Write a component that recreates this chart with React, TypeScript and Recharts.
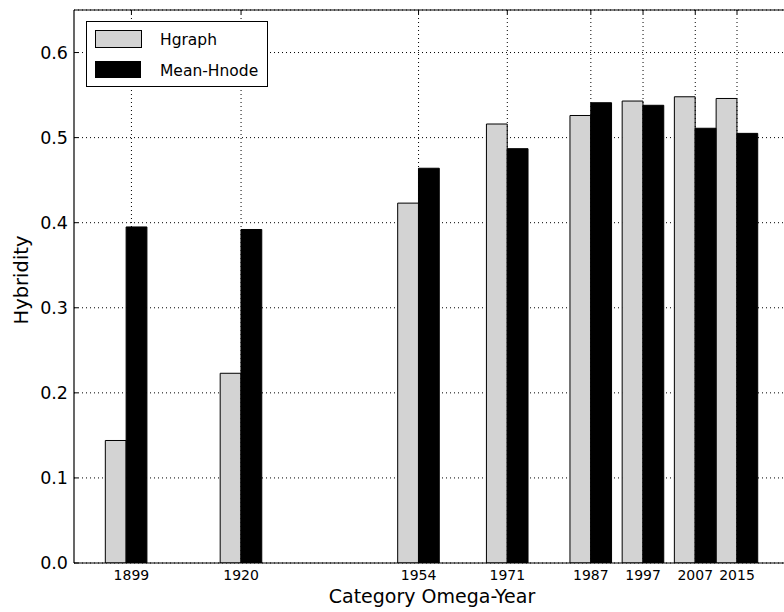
import { BarChart, Bar, XAxis, YAxis, CartesianGrid, ReferenceLine } from "recharts";

// tick labels on the year axis, and where each pair of bars sits
const tickYears = [1899, 1920, 1954, 1971, 1987, 1997, 2007, 2015];
const barYears = [1898, 1920, 1954, 1971, 1987, 1997, 2007, 2015];

const hgraph = [0.144, 0.223, 0.423, 0.516, 0.526, 0.543, 0.548, 0.546];
const meanHnode = [0.395, 0.392, 0.464, 0.487, 0.541, 0.538, 0.511, 0.505];

const yTicks = [0, 0.1, 0.2, 0.3, 0.4, 0.5, 0.6];

const data = barYears.map((year, i) => ({
  year,
  hgraph: hgraph[i],
  meanHnode: meanHnode[i],
}));

const FONT = "'DejaVu Sans', sans-serif";
const PLOT_TOP = 10;
const PLOT_LEFT = 74;

const YTick = (props: any) => {
  const { x, y, payload } = props;
  return (
    <g>
      <line x1={PLOT_LEFT} x2={PLOT_LEFT + 4} y1={y} y2={y} stroke="#000" />
      <text x={x} y={y} dy="0.355em" textAnchor="end" fontSize={17.5} fontFamily={FONT} fill="#000">
        {payload.value.toFixed(1)}
      </text>
    </g>
  );
};

const XTick = (props: any) => {
  const { x, y, payload } = props;
  return (
    <g>
      <line x1={x} x2={x} y1={PLOT_TOP} y2={PLOT_TOP + 4} stroke="#000" />
      <text x={x} y={y} dy="0.71em" textAnchor="middle" fontSize={14} fontFamily={FONT} fill="#000">
        {payload.value}
      </text>
    </g>
  );
};

export default function App() {
  return (
    <div style={{ position: "absolute", left: 0, top: 0, width: 784, height: 612, background: "#fff" }}>
      <BarChart
        width={784}
        height={612}
        data={data}
        barSize={20.8}
        barGap={0}
        margin={{ top: PLOT_TOP, right: 0, bottom: 0, left: 0 }}
      >
        <XAxis
          dataKey="year"
          type="number"
          domain={[1888, 2024]}
          ticks={tickYears}
          allowDataOverflow
          height={49}
          tickLine={false}
          tickSize={0}
          tickMargin={7}
          axisLine={{ stroke: "#000", strokeWidth: 1.2 }}
          tick={<XTick />}
          label={() => (
            <text x={432} y={603} textAnchor="middle" fontSize={19} fontFamily={FONT} fill="#000">
              Category Omega-Year
            </text>
          )}
        />
        <YAxis
          type="number"
          domain={[0, 0.65]}
          ticks={yTicks}
          allowDataOverflow
          width={74}
          tickLine={false}
          tickSize={0}
          tickMargin={6}
          axisLine={{ stroke: "#000", strokeWidth: 1.2 }}
          tick={<YTick />}
          label={() => (
            <text x={28} y={280} transform="rotate(-90 28 280)" textAnchor="middle" fontSize={19.5} fontFamily={FONT} fill="#000">
              Hybridity
            </text>
          )}
        />
        <Bar dataKey="hgraph" fill="#d3d3d3" stroke="#000" strokeWidth={1} isAnimationActive={false} />
        <Bar dataKey="meanHnode" fill="#000" stroke="#000" strokeWidth={1} isAnimationActive={false} />
        <CartesianGrid stroke="#000" strokeDasharray="1 3" vertical={false} />
        {tickYears.map((t) => (
          <ReferenceLine key={t} x={t} stroke="#000" strokeDasharray="1 3" />
        ))}
        <ReferenceLine y={0.65} stroke="#000" strokeWidth={1.2} />
      </BarChart>

      <div
        style={{
          position: "absolute",
          left: 86,
          top: 21,
          width: 180,
          height: 64,
          border: "1px solid #000",
          background: "#fff",
          fontFamily: FONT,
          fontSize: 15.5,
          color: "#000",
        }}
      >
        <div style={{ position: "absolute", left: 8, top: 8, width: 45, height: 16, background: "#d3d3d3", border: "1px solid #000" }} />
        <div style={{ position: "absolute", left: 73, top: 9, lineHeight: "18px", whiteSpace: "nowrap" }}>Hgraph</div>
        <div style={{ position: "absolute", left: 8, top: 39, width: 46, height: 17, background: "#000" }} />
        <div style={{ position: "absolute", left: 73, top: 40, lineHeight: "18px", whiteSpace: "nowrap" }}>Mean-Hnode</div>
      </div>
    </div>
  );
}
